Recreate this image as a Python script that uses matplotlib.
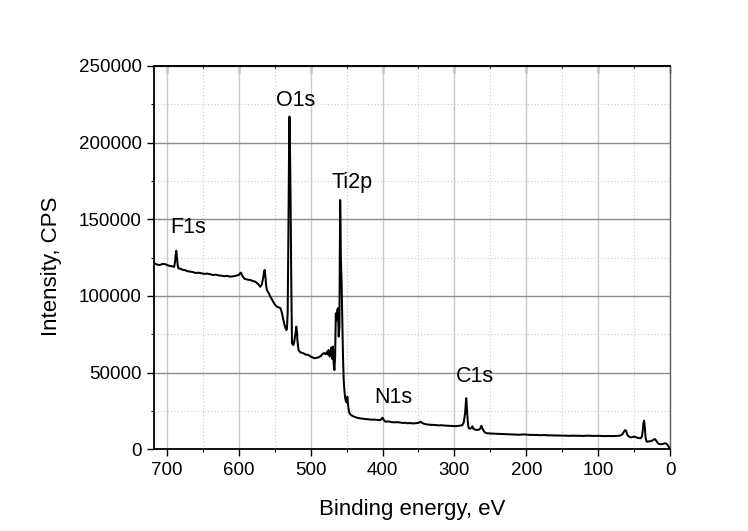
import matplotlib
matplotlib.use("Agg")
import matplotlib.pyplot as plt
from matplotlib.ticker import MultipleLocator

plt.rcParams['font.family'] = ['Liberation Sans', 'DejaVu Sans']

# ---- data (binding energy, eV / intensity, CPS) ----
energy = [718, 714, 710, 706, 702, 698, 695, 692, 690, 689, 688, 687, 686, 685, 684,
          681, 678, 675, 672, 668, 664, 660, 656, 652, 648, 644, 640, 636, 632, 628,
          624, 620, 616, 612, 608, 604, 600, 598, 597, 595, 592, 590, 587, 584, 580,
          577, 574, 572, 570, 568, 566, 565, 564, 563, 562, 561, 558, 556, 553, 550,
          547, 544, 542, 540, 538, 536, 534, 533, 532, 531, 530, 529.5, 529, 528, 527,
          526, 525, 524, 523, 521, 520, 519, 518.5, 517, 515.5, 513, 510, 507, 503, 500,
          497, 495, 492, 489, 486, 483, 481, 479, 477, 476, 475, 473.5, 472.5, 471, 470,
          469, 468, 467, 466, 465, 464, 463, 462, 461, 460, 459.5, 459, 458.5, 458, 457,
          456, 455, 454, 453, 452, 451, 450, 449, 448, 447, 446, 444, 442, 439, 435,
          431, 427, 423, 419, 415, 411, 407, 403, 400, 398, 396, 392, 388, 384, 380,
          376, 372, 368, 366, 362, 358, 354, 350, 347, 345, 342, 338, 334, 330, 326,
          322, 318, 314, 310, 306, 302, 298, 294, 291, 289, 287, 285, 284, 283.5, 283,
          282, 281, 280, 278, 276, 275, 274, 272, 270, 268, 266, 264, 263, 262, 261,
          259, 257, 255, 250, 245, 240, 235, 230, 225, 220, 215, 210, 205, 200, 195,
          190, 185, 180, 175, 170, 165, 160, 155, 150, 145, 140, 135, 130, 125, 120,
          115, 110, 105, 100, 95, 90, 85, 80, 75, 70, 68, 66, 64, 62, 61,
          60, 58, 56, 54.7, 52, 50, 48, 45, 42, 40.8, 39, 38, 37, 36, 35,
          34, 32.5, 30, 27, 25, 23, 21.3, 20, 18, 16, 14, 12, 10, 8, 6,
          4, 2, 0]
intensity = [121300, 120500, 120200, 120900, 120700, 119800, 119600, 119200, 119000, 121500, 126000, 129500, 125000, 120000, 118000,
             117800, 117000, 116900, 116200, 115900, 115600, 115000, 115200, 114800, 114400, 114600, 114200, 113700, 113900, 113400,
             113200, 112900, 113100, 112600, 112800, 113200, 113700, 115000, 115200, 113000, 111200, 110900, 110600, 110400, 109700,
             109300, 108200, 107200, 106000, 107500, 112000, 115500, 117000, 113000, 107000, 104000, 101500, 99500, 97000, 94500,
             93000, 92500, 92000, 89000, 84300, 80500, 77800, 78300, 89000, 140000, 200000, 217000, 205000, 165000, 110000,
             69000, 68500, 68000, 70000, 76000, 80000, 76000, 71300, 65000, 63700, 63000, 62600, 61800, 61500, 60500,
             59800, 59400, 59600, 60000, 60800, 62300, 62800, 62000, 63700, 61800, 64800, 60500, 61500, 66500, 59000,
             67000, 56000, 51700, 60000, 88700, 84000, 91000, 92000, 73500, 80000, 120000, 162600, 150000, 125000, 110000,
             84300, 60000, 45000, 38000, 33500, 31500, 30500, 34300, 29000, 25500, 23500, 22400, 21800, 21200, 20500,
             20200, 19900, 19700, 19500, 19300, 19400, 19100, 19100, 20600, 19000, 18000, 18200, 17800, 17600, 17700,
             17500, 17200, 17300, 17000, 17100, 16900, 17000, 17200, 18100, 17200, 16600, 16200, 16000, 15900, 15800,
             15600, 15700, 15500, 15400, 15300, 15200, 15100, 15300, 15500, 15800, 17500, 24000, 31000, 33300, 30000,
             22000, 16000, 13700, 13500, 14200, 15000, 13700, 13000, 12700, 12600, 12800, 13500, 15000, 15200, 13500,
             11800, 10800, 10500, 10300, 10200, 10100, 10000, 9900, 9800, 9700, 9600, 9500, 9700, 9600, 9400,
             9400, 9300, 9200, 9300, 9100, 9100, 9000, 9000, 8900, 8900, 8800, 8900, 8800, 8800, 8700,
             8900, 8800, 8700, 8800, 8700, 8600, 8700, 8600, 8700, 8900, 9200, 10000, 11600, 12600, 12000,
             10000, 8600, 8000, 7800, 8000, 8300, 8000, 7500, 7200, 7200, 8500, 12000, 17000, 18700, 14000,
             7500, 5000, 5100, 5300, 5600, 6200, 6700, 6200, 4800, 3600, 3400, 3300, 3500, 3800, 3900,
             3300, 1800, 700]

peak_labels = ["F1s", "O1s", "Ti2p", "N1s", "C1s"]
label_x = [670, 521, 442, 385, 271]
label_y = [144400, 227800, 173900, 33500, 47400]

x_ticks = [700, 600, 500, 400, 300, 200, 100, 0]
y_ticks = [0, 50000, 100000, 150000, 200000, 250000]

# ---- figure ----
fig = plt.figure(figsize=(7.48, 5.31), dpi=100)
ax = fig.add_axes([154 / 748, 1 - 449.3 / 531, (670 - 154) / 748, (449.3 - 66) / 531])

ax.plot(energy, intensity, color='black', lw=1.45, zorder=3)

ax.set_xlim(718, 0)
ax.set_ylim(0, 250000)
ax.set_xticks(x_ticks)
ax.set_yticks(y_ticks)
ax.xaxis.set_minor_locator(MultipleLocator(50))
ax.yaxis.set_minor_locator(MultipleLocator(25000))

ax.grid(which='major', axis='x', color='#c8c8c8', lw=1.0, zorder=0)
ax.grid(which='major', axis='y', color='#8c8c8c', lw=1.0, zorder=0)
ax.grid(which='minor', axis='both', color='#c8c8c8', lw=0.8, ls=(0, (1, 2)), zorder=0)

ax.tick_params(which='major', direction='out', length=5, width=1.0, labelsize=13.5, pad=4)
ax.tick_params(which='minor', direction='out', length=2.5, width=0.8)
ax.tick_params(top=False, right=False)

for side in ['left', 'bottom', 'top']:
    ax.spines[side].set_color('black')
    ax.spines[side].set_linewidth(1.3)
ax.spines['right'].set_color('#606060')
ax.spines['right'].set_linewidth(1.0)

top = ax.secondary_xaxis('top')
top.set_xticks(x_ticks)
top.xaxis.set_minor_locator(MultipleLocator(50))
top.tick_params(which='major', direction='in', length=5, width=1.0, labeltop=False)
top.tick_params(which='minor', direction='in', length=2.5, width=0.8)
top.spines['top'].set_linewidth(1.3)

ax.set_xlabel("Binding energy, eV", fontsize=16)
ax.set_ylabel("Intensity, CPS", fontsize=16)
ax.xaxis.set_label_coords(0.5, -0.158)
ax.xaxis.label.set_va('center')
ax.yaxis.set_label_coords(-0.198, 0.477)
ax.yaxis.label.set_va('center')

for t, xx, yy in zip(peak_labels, label_x, label_y):
    ax.text(xx, yy, t, fontsize=15.5, ha='center', va='center', zorder=4)

fig.savefig("out.png", dpi=100)
